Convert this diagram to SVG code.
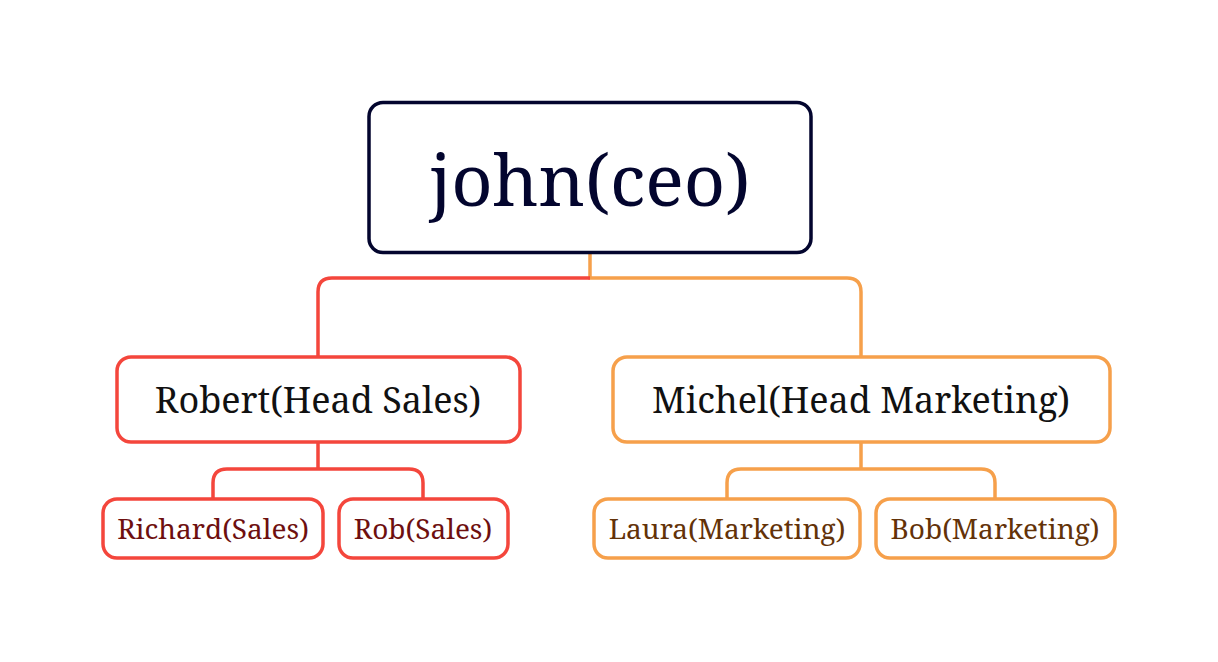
<svg xmlns="http://www.w3.org/2000/svg" width="1218" height="662" viewBox="0 0 1218 662">
<style>
text{font-family:"Noto Serif","DejaVu Serif","Liberation Serif",serif;text-anchor:middle}
.box{fill:#fff;stroke-width:3.5}
.root{stroke:#03052e}
.red{stroke:#f4463c}
.org{stroke:#f6a04b}
.ln{fill:none;stroke-width:3.5}
.t0{font-size:72px;fill:#03052e}
.t1{font-size:36px;fill:#111}
.t2r{font-size:28px;fill:#6e0f0f}
.t2o{font-size:28px;fill:#633208}
</style>
<rect width="1218" height="662" fill="#fff"/>
<g id="connectors">
<path class="ln org" d="M590 253 V278 H847 Q861 278 861 292 V357"/>
<path class="ln red" d="M590 278 H332 Q318 278 318 292 V357"/>
<path class="ln red" d="M318 442 V469 M318 469 H227 Q213 469 213 483 V499 M318 469 H409 Q423 469 423 483 V499"/>
<path class="ln org" d="M861 442 V469 M861 469 H741 Q727 469 727 483 V499 M861 469 H981 Q995 469 995 483 V499"/>
</g>
<g id="john">
<rect class="box root" x="369" y="102.5" width="442" height="150" rx="14"/>
<text class="t0" x="590" y="206">john(ceo)</text>
</g>
<g id="robert">
<rect class="box red" x="117" y="357" width="403" height="85" rx="14"/>
<text class="t1" x="318" y="413">Robert(Head Sales)</text>
</g>
<g id="michel">
<rect class="box org" x="613" y="357" width="497" height="85" rx="14"/>
<text class="t1" x="861" y="413">Michel(Head Marketing)</text>
</g>
<g id="richard">
<rect class="box red" x="103" y="499" width="220" height="59" rx="14"/>
<text class="t2r" x="213" y="539">Richard(Sales)</text>
</g>
<g id="rob">
<rect class="box red" x="339" y="499" width="169" height="59" rx="14"/>
<text class="t2r" x="423" y="539">Rob(Sales)</text>
</g>
<g id="laura">
<rect class="box org" x="594" y="499" width="266" height="59" rx="14"/>
<text class="t2o" x="727" y="539">Laura(Marketing)</text>
</g>
<g id="bob">
<rect class="box org" x="876" y="499" width="239" height="59" rx="14"/>
<text class="t2o" x="995" y="539">Bob(Marketing)</text>
</g>
</svg>
